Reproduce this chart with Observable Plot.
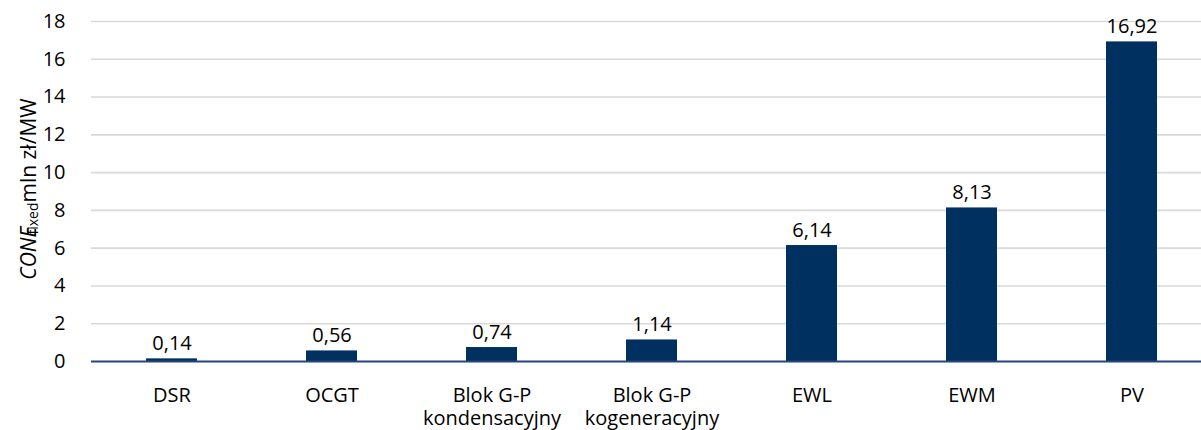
<!DOCTYPE html>
<html>
<head>
<meta charset="utf-8">
<script src="https://cdn.jsdelivr.net/npm/d3@7"></script>
<script src="https://cdn.jsdelivr.net/npm/@observablehq/plot@0.6"></script>
<style>
  html, body { margin: 0; padding: 0; background: #fff; }
  #chart svg { display: block; }
</style>
</head>
<body>
<div id="chart"></div>
<script>
const categories = ["DSR", "OCGT", "Blok G-P\nkondensacyjny", "Blok G-P\nkogeneracyjny", "EWL", "EWM", "PV"];
const values = [0.14, 0.56, 0.74, 1.14, 6.14, 8.13, 16.92];
const yTicks = [0, 2, 4, 6, 8, 10, 12, 14, 16, 18];

const data = categories.map((c, i) => ({cat: c, v: values[i]}));
const fmt = v => v.toFixed(2).replace(".", ",");
const font = "'Open Sans', 'Noto Sans', sans-serif";
const barColor = "#00305f";

const plot = Plot.plot({
  width: 1201,
  height: 430,
  marginTop: 21,
  marginBottom: 69,
  marginLeft: 91,
  marginRight: 0,
  style: {fontFamily: font, fontSize: "20px", color: "#000", background: "#fff"},
  x: {domain: categories, range: [91.5, 1211.5], paddingInner: 0.68, paddingOuter: 0.34, label: null},
  y: {domain: [0, 18], label: null},
  marks: [
    Plot.ruleY(yTicks.filter(d => d > 0), {stroke: "#d9d9d9", strokeWidth: 1.6}),
    Plot.axisY({ticks: yTicks, tickSize: 0, tickPadding: 26, fontSize: 20, label: null}),
    Plot.axisX({tickSize: 0, tickPadding: 25, fontSize: 20, lineHeight: 1.12, label: null}),
    Plot.barY(data, {x: "cat", y: "v", fill: barColor}),
    Plot.ruleY([0], {stroke: "#25457d", strokeWidth: 1.8}),
    Plot.text(data, {x: "cat", y: "v", text: d => fmt(d.v), dy: -15, fontSize: 20, fill: "#000"})
  ]
});

document.getElementById("chart").appendChild(plot);

// Rotated y-axis title with italic CONE and subscript "fixed"
const svg = d3.select(plot);
const t = svg.append("text")
  .attr("transform", "translate(36,189) rotate(-90)")
  .attr("text-anchor", "middle")
  .attr("font-family", font)
  .attr("font-size", 21)
  .attr("fill", "#000");
t.append("tspan").attr("font-style", "italic").text("CONE");
t.append("tspan").attr("font-size", 14).attr("dy", 2).attr("dx", -8).text("fixed");
t.append("tspan").attr("dy", -2).text("mln zł/MW");
</script>
</body>
</html>
